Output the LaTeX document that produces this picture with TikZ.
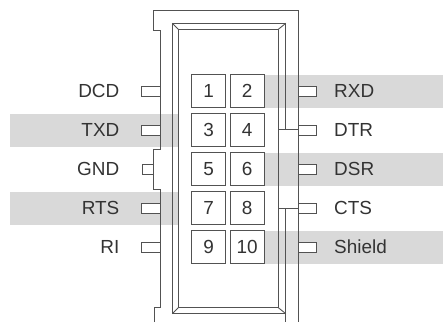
\documentclass[tikz,border=0pt]{standalone}
\usepackage{fontspec}
\setmainfont{Liberation Sans}
\begin{document}
\begin{tikzpicture}[x=1bp,y=-1bp,
  line/.style={draw=black!68, line width=0.9bp},
  band/.style={fill=black!15, draw=none},
  pinbox/.style={line, fill=white, minimum width=34bp, minimum height=33bp, inner sep=0pt, anchor=center},
  tab/.style={line, fill=white},
  lbl/.style={text=black!80, inner sep=0pt, font=\fontsize{19}{19}\selectfont},
  num/.style={text=black!80, inner sep=0pt, font=\fontsize{19}{19}\selectfont}]
\useasboundingbox (0,0) rectangle (443,322);
% bands
\fill[band] (10,113.8) rectangle (178.3,146.8);
\fill[band] (10,191.8) rectangle (178.3,224.8);
\fill[band] (264,74.8) rectangle (443,107.8);
\fill[band] (264,152.8) rectangle (443,185.8);
\fill[band] (264,230.8) rectangle (443,263.8);
% housing
\draw[line] (154,322) -- (154,307.3) -- (160.3,307.3) -- (160.3,189.3) -- (153,189.3) -- (153,149) -- (160.3,149) -- (160.3,30) -- (153.5,30) -- (153.5,10.7) -- (298.5,10.7) -- (298.5,322);
% inner frame
\draw[line] (285.8,129.3) -- (285.8,23.3) -- (172.3,23.3) -- (172.3,313.7) -- (285.8,313.7) -- (285.8,322);
\draw[line] (285.8,313.7) -- (285.8,208.3);
\draw[line] (178.3,29.3) rectangle (278.3,307.7);
\draw[line] (172.3,23.3) -- (178.3,29.3);
\draw[line] (285.8,23.3) -- (278.3,29.3);
\draw[line] (172.3,313.7) -- (178.3,307.7);
\draw[line] (285.8,313.7) -- (278.3,307.7);
\draw[line] (278.3,129.3) -- (298.5,129.3);
\draw[line] (278.3,208.3) -- (298.5,208.3);
% tabs
\foreach \y in {91.3,130.3,208.3,247.3} {
  \draw[tab] (141.7,\y-5) rectangle (160.3,\y+5);
}
\draw[tab] (142.3,169.3-5) rectangle (153,169.3+5);
\foreach \y in {91.3,130.3,169.3,208.3,247.3} {
  \draw[tab] (298.5,\y-5) rectangle (316,\y+5);
}
% pin boxes
\foreach \n/\x/\y in {1/208.7/91.3, 2/247.2/91.3, 3/208.7/130.3, 4/247.2/130.3, 5/208.7/169.3, 6/247.2/169.3, 7/208.7/208.3, 8/247.2/208.3, 9/208.7/247.3, 10/247.2/247.3} {
  \node[pinbox] (p\n) at (\x,\y) {};
  \node[num, anchor=base] (n\n) at (\x,\y+6.3) {\n};
}
% labels
\foreach \t/\y in {DCD/91.3, TXD/130.3, GND/169.3, RTS/208.3, RI/247.3} {
  \node[lbl, anchor=base east] (l\t) at (119.5,\y+6.5) {\t};
}
\foreach \t/\y in {RXD/91.3, DTR/130.3, DSR/169.3, CTS/208.3, Shield/247.3} {
  \node[lbl, anchor=base west] (r\t) at (334,\y+6.5) {\t};
}
\end{tikzpicture}
\end{document}
